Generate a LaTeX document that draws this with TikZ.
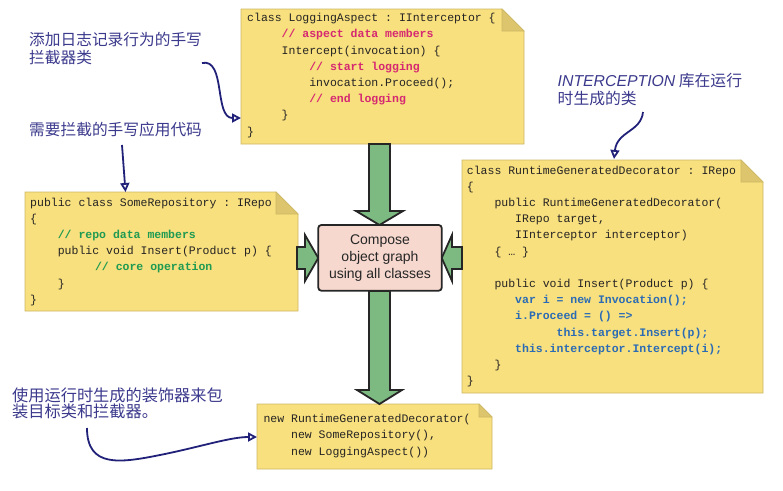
\documentclass[tikz,border=0pt]{standalone}
\usepackage{fontspec}
\setmainfont{Liberation Sans}
\setmonofont{Liberation Mono}
\newfontfamily\cjk{Noto Sans CJK SC}
\newfontfamily\lsans{Liberation Sans}
\usetikzlibrary{arrows.meta}
\definecolor{noteY}{HTML}{F7E07D}
\definecolor{noteB}{HTML}{CDB866}
\definecolor{foldY}{HTML}{DCC56C}
\definecolor{arrG}{HTML}{7CBA82}
\definecolor{boxP}{HTML}{F6D8CE}
\definecolor{codeK}{HTML}{262324}
\definecolor{cMag}{HTML}{D62872}
\definecolor{cGrn}{HTML}{1F9A52}
\definecolor{cBlu}{HTML}{2B6BB5}
\definecolor{labC}{HTML}{3B398C}
\definecolor{curC}{HTML}{21217A}
\newcommand\ind[1]{\hspace*{#1\dimexpr 0.6em\relax}\ignorespaces}
\newcommand\cmt[2]{\textbf{\textcolor{#1}{#2}}}
\newcommand\codepar[2]{\parbox[t]{#1}{\fontsize{11.5}{16.2}\selectfont #2}}
\tikzset{
  note/.style={fill=noteY, draw=noteB, line width=0.8pt},
  fold/.style={fill=foldY, draw=noteB, line width=0.6pt},
  blockarrow/.style={fill=arrG, draw=black!85, line width=1.8pt, line join=miter},
  code/.style={inner sep=0pt, anchor=base west, text=codeK, font=\ttfamily},
  lab/.style={inner sep=0pt, anchor=base west, text=labC, font=\cjk},
  callout/.style={draw=curC, line width=1.8pt, -{Triangle[open, length=9pt, width=9pt]}},
  centerbox/.style={fill=boxP, draw=black!85, line width=1.8pt, rounded corners=3pt}
}
\begin{document}
\begin{tikzpicture}[x=1pt,y=-1pt]
\useasboundingbox (0,0) rectangle (783,490);

% ---------- yellow notes ----------
% LoggingAspect
\draw[note] (241,9) -- (502,9) -- (524,31) -- (524,144) -- (241,144) -- cycle;
\draw[fold] (502,9) -- (502,31) -- (524,31) -- cycle;
% SomeRepository
\draw[note] (25,192) -- (276,192) -- (298,214) -- (298,311) -- (25,311) -- cycle;
\draw[fold] (276,192) -- (276,214) -- (298,214) -- cycle;
% RuntimeGeneratedDecorator
\draw[note] (462,160) -- (741,160) -- (763,182) -- (763,393) -- (462,393) -- cycle;
\draw[fold] (741,160) -- (741,182) -- (763,182) -- cycle;
% composition
\draw[note] (257,404) -- (479,404) -- (492,417) -- (492,469) -- (257,469) -- cycle;
\draw[fold] (479,404) -- (479,417) -- (492,417) -- cycle;

% ---------- code ----------
\node[code] (logcode) at (247,21.7) {\codepar{270pt}{%
class LoggingAspect : IInterceptor \{\\
\ind{5}\cmt{cMag}{// aspect data members}\\
\ind{5} Intercept(invocation) \{\\
\ind{9}\cmt{cMag}{// start logging}\\
\ind{9} invocation.Proceed();\\
\ind{9}\cmt{cMag}{// end logging}\\
\ind{5}\}\\
\}}};

\node[code] (repocode) at (30,206) {\codepar{260pt}{%
public class SomeRepository : IRepo\\
\{\\
\ind{4}\cmt{cGrn}{// repo data members}\\
\ind{4} public void Insert(Product p) \{\\
\ind{9.4}\cmt{cGrn}{// core operation}\\
\ind{4}\}\\
\}}};

\node[code] (deccode) at (466.7,174) {\codepar{290pt}{%
class RuntimeGeneratedDecorator : IRepo\\
\{\\
\ind{4} public RuntimeGeneratedDecorator(\\
\ind{7} IRepo target,\\
\ind{7} IInterceptor interceptor)\\
\ind{4}\{ … \}\\
\mbox{}\\
\ind{4} public void Insert(Product p) \{\\
\ind{7}\cmt{cBlu}{var i = new Invocation();}\\
\ind{7}\cmt{cBlu}{i.Proceed = () =>}\\
\ind{13}\cmt{cBlu}{this.target.Insert(p);}\\
\ind{7}\cmt{cBlu}{this.interceptor.Intercept(i);}\\
\ind{4}\}\\
\}}};

\node[code] (newcode) at (263.3,422.7) {\codepar{220pt}{%
new RuntimeGeneratedDecorator(\\
\ind{4} new SomeRepository(),\\
\ind{4} new LoggingAspect())}};

% ---------- block arrows ----------
\draw[blockarrow] (369,144) -- (369,211) -- (356,211) -- (379.5,225) -- (403,211) -- (390,211) -- (390,144) -- cycle;
\draw[blockarrow] (297,247) -- (305,247) -- (305,235) -- (318.3,258) -- (305,281) -- (305,269) -- (297,269) -- cycle;
\draw[blockarrow] (462,247) -- (452,247) -- (452,235) -- (441.7,258) -- (452,281) -- (452,269) -- (462,269) -- cycle;
\draw[blockarrow] (369,291) -- (369,390) -- (357,390) -- (379.5,404) -- (402,390) -- (390,390) -- (390,291) -- cycle;

% ---------- center box ----------
\draw[centerbox] (318.3,225) rectangle (441.7,290.7);
\node[align=center, font=\fontsize{14}{17.4}\selectfont, text=black!85] (compose) at (380,258) {Compose\\object graph\\using all classes};

% ---------- labels ----------
\node[lab] (lab1) at (29,45) {\parbox[t]{200pt}{\fontsize{15.7}{18}\selectfont 添加日志记录行为的手写\\拦截器类}};
\node[lab] (lab2) at (29,135.3) {\fontsize{15.7}{18}\selectfont 需要拦截的手写应用代码};
\node[lab] (lab3) at (557.5,86.7) {\parbox[t]{220pt}{\fontsize{15.8}{17.6}\selectfont{\lsans\itshape INTERCEPTION} 库在运行\\时生成的类}};
\node[lab] (lab4) at (12,401) {\parbox[t]{240pt}{\fontsize{16.2}{16.8}\selectfont 使用运行时生成的装饰器来包\\装目标类和拦截器。}};

% ---------- callout connectors ----------
\coordinate (c1s) at (202,63);
\coordinate (c1e) at (241,118);
\coordinate (c2s) at (122,145);
\coordinate (c2e) at (125.5,192);
\coordinate (c3s) at (643,112);
\coordinate (c3e) at (614,159);
\coordinate (c4s) at (87,428);
\coordinate (c4e) at (257,437);
\draw[callout] (c1s) .. controls (226,58) and (214,118) .. (c1e);
\draw[callout] (c2s) -- (c2e);
\draw[callout] (c3s) .. controls (641,132) and (617,131) .. (c3e);
\draw[callout] (c4s) .. controls (87,468) and (120,463) .. (160,455) .. controls (200,447) and (230,437) .. (c4e);
\end{tikzpicture}
\end{document}
